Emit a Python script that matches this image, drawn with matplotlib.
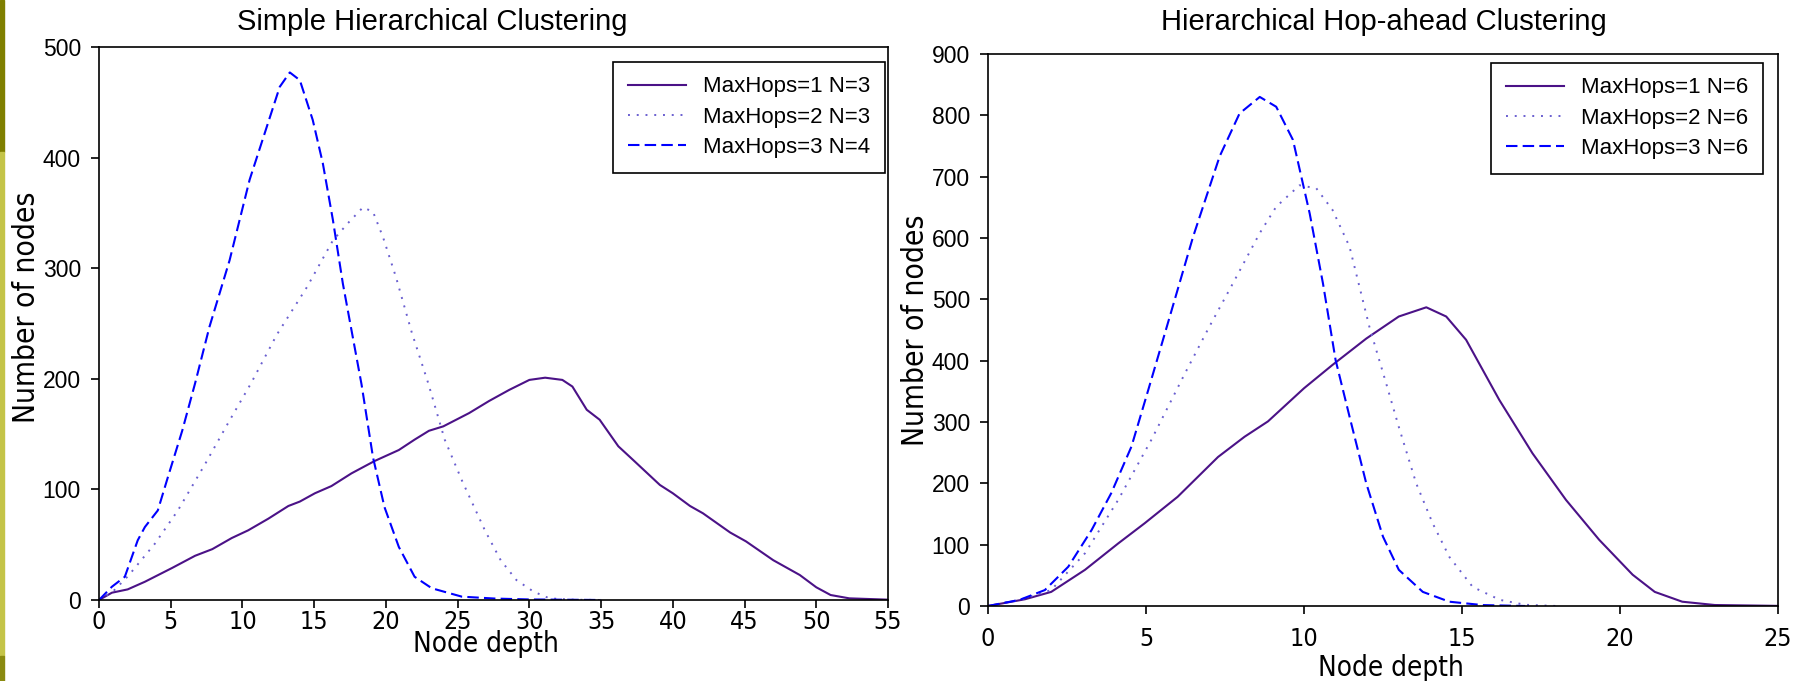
import matplotlib
matplotlib.use("Agg")
import matplotlib.pyplot as plt
from matplotlib import font_manager as fm
from matplotlib.patches import Rectangle

# ---- data ----
simple_title = "Simple Hierarchical Clustering"
hop_title = "Hierarchical Hop-ahead Clustering"
simple_labels = ["MaxHops=1 N=3", "MaxHops=2 N=3", "MaxHops=3 N=4"]
hop_labels = ["MaxHops=1 N=6", "MaxHops=2 N=6", "MaxHops=3 N=6"]

s1_x = [0, 0.9, 2.0, 3.2, 5.1, 6.7, 7.9, 9.25, 10.4, 11.8, 13.2, 14.0, 15.05, 16.2,
        17.6, 19.2, 20.9, 22.0, 23.0, 24.0, 25.8, 27.2, 28.6, 30.0, 31.1, 32.3, 33.0,
        34.0, 34.9, 36.2, 37.2, 39.1, 40.0, 41.2, 42.1, 44.0, 45.1, 47.0, 48.85, 50.0,
        51.0, 52.3, 55]
s1_y = [0, 6.6, 9.6, 16.5, 29, 40, 46, 56, 63, 73.5, 85, 89, 96.5, 103,
        114.5, 125.6, 135.6, 145, 153, 157, 169, 180, 190, 199, 201, 199, 193,
        172, 163, 139, 127, 104, 96.5, 85, 78.4, 61, 53, 36, 22.6, 11.5,
        4.5, 1.5, 0.3]
s2_x = [0, 1.0, 2.05, 3.9, 5.5, 7.4, 9.0, 10.6, 12.4, 14.5, 16.3, 17.3, 18.4, 19.1,
        19.8, 20.7, 21.8, 22.95, 24.1, 25.3, 26.9, 28.0, 29.1, 30.3, 31.4, 33, 35]
s2_y = [0, 8, 22, 51, 81, 123, 160, 196, 240, 283, 325, 340, 355, 351,
        328, 292, 242, 196, 145, 108, 63, 36, 18, 7.5, 1.5, 0.3, 0]
s3_x = [0, 0.9, 1.8, 2.7, 3.2, 4.1, 4.8, 5.8, 6.7, 7.7, 9.1, 10.5, 11.7, 12.6, 13.3,
        14.0, 14.9, 15.6, 16.3, 17.0, 17.6, 18.3, 19.1, 19.9, 20.9, 22.0, 23.2, 25.3,
        27.6, 30, 35]
s3_y = [0, 12, 21, 54, 66, 81, 111, 153, 196, 247, 307, 380, 428, 464, 477,
        470, 434, 395, 344, 286, 244, 195, 129, 84, 48, 21, 10.6, 3,
        1.3, 0.5, 0]

h1_x = [0, 1.17, 2.0, 3.07, 4.12, 4.96, 6.0, 7.28, 8.12, 8.86, 10.0, 10.9, 11.97,
        13.0, 13.87, 14.5, 15.13, 16.18, 17.23, 18.29, 19.34, 20.4, 21.1, 21.97,
        23.0, 25]
h1_y = [0, 11, 23, 59, 102, 135, 178, 243, 276, 301, 355, 393, 436,
        472, 487, 472, 434, 336, 249, 173, 108, 51, 23, 7,
        1.6, 0.2]
h2_x = [0, 1.0, 2.0, 3.07, 4.12, 5.17, 6.23, 7.0, 7.75, 8.6, 9.12, 9.86, 10.39,
        10.9, 11.44, 12.07, 12.6, 13.0, 13.55, 14.07, 14.6, 15.34, 16.2, 17.0, 18]
h2_y = [0, 10, 26, 86, 173, 271, 379, 455, 526, 608, 651, 686, 681,
        646, 586, 455, 363, 292, 200, 135, 80, 31, 10, 2, 0]
h3_x = [0, 1.0, 1.8, 2.54, 3.28, 3.9, 4.54, 5.07, 5.6, 6.49, 7.33, 7.96, 8.6, 9.12,
        9.65, 10.18, 10.6, 11.0, 11.44, 11.97, 12.5, 13.0, 13.76, 14.6, 15.65, 17]
h3_y = [0, 10, 26, 64, 124, 184, 260, 352, 445, 602, 733, 803, 830, 814,
        760, 640, 526, 401, 309, 200, 113, 59, 23, 7, 1.5, 0]

# ---- styling ----
C_SOLID = "#4b1287"
C_DOT = "#6a5fd0"
C_DASH = "#0000ff"
REG = {"family": ["Liberation Sans", "DejaVu Sans"]}

# the axis texts in the reference are set in a narrow face; use one if present
_fonts = fm.fontManager.ttflist
if any(f.name == "Liberation Sans Narrow" for f in _fonts):
    NARROW = {"family": ["Liberation Sans Narrow", "DejaVu Sans"]}
    NSCALE = 1.2
elif any(f.name == "DejaVu Sans" and f.stretch == "condensed" for f in _fonts):
    NARROW = {"family": ["DejaVu Sans"], "stretch": "condensed"}
    NSCALE = 1.0
else:
    NARROW = REG
    NSCALE = 1.0

fig = plt.figure(figsize=(18.08, 6.81), dpi=100)
W, H = 1808, 681

# olive strip on the left edge
fig.patches.append(Rectangle((0, 1 - 152 / H), 4 / W, 152 / H, transform=fig.transFigure,
                             color="#7f7f00", zorder=0))
fig.patches.append(Rectangle((0, 25 / H), 4 / W, (656 - 152) / H, transform=fig.transFigure,
                             color="#c4c448", zorder=0))
fig.patches.append(Rectangle((0, 0), 4 / W, 25 / H, transform=fig.transFigure,
                             color="#8a8a10", zorder=0))


def panel(px, series, labels, leg_px, xmax, ymax, xpad, title, title_x,
          ylab_xy, xlab_xy):
    x0, x1, y0, y1 = px
    ax = fig.add_axes([x0 / W, 1 - y1 / H, (x1 - x0) / W, (y1 - y0) / H])
    (xa, ya), (xb, yb), (xc, yc) = series
    ax.plot(xa, ya, color=C_SOLID, lw=1.5, label=labels[0])
    ax.plot(xb, yb, color=C_DOT, lw=1.4, ls=(0, (1, 3.5)), label=labels[1])
    ax.plot(xc, yc, color=C_DASH, lw=1.5, ls=(0, (5.5, 2.5)), label=labels[2])
    ax.set_xlim(0, xmax)
    ax.set_ylim(0, ymax)
    ax.set_xticks(range(0, xmax + 1, 5))
    ax.set_yticks(range(0, ymax + 1, 100))
    for sp in ax.spines.values():
        sp.set_linewidth(1.2)
    ax.tick_params(direction="out", length=6, width=1.2)
    ax.tick_params(axis="y", pad=7)
    ax.tick_params(axis="x", pad=xpad)
    for t in ax.get_yticklabels():
        t.set_fontproperties(fm.FontProperties(size=16.5, **REG))
    for t in ax.get_xticklabels():
        t.set_fontproperties(fm.FontProperties(size=18 * NSCALE, **NARROW))
    ax.set_xlabel("Node depth", fontproperties=fm.FontProperties(size=20 * NSCALE, **NARROW))
    ax.set_ylabel("Number of nodes", fontproperties=fm.FontProperties(size=21.5 * NSCALE, **NARROW))
    ax.yaxis.set_label_coords(*ylab_xy)
    ax.xaxis.set_label_coords(*xlab_xy)
    leg = ax.legend(loc="upper right", bbox_to_anchor=(leg_px[0] / W, 1 - leg_px[1] / H),
                    bbox_transform=fig.transFigure, borderaxespad=0, fancybox=False,
                    edgecolor="black", framealpha=1,
                    prop=fm.FontProperties(size=16, **REG),
                    handlelength=2.6, handletextpad=0.8, labelspacing=0.42,
                    borderpad=0.65)
    leg.get_frame().set_linewidth(1.2)
    fig.text(title_x / W, 1 - 22 / H, title, ha="center", va="center",
             fontproperties=fm.FontProperties(size=21, **REG))
    return ax


ax1 = panel((99, 888, 47, 600), [(s1_x, s1_y), (s2_x, s2_y), (s3_x, s3_y)],
            simple_labels, (885, 62), 55, 500, 1, simple_title, 432,
            (-0.074, 0.53), (0.49, -0.055))
ax2 = panel((988, 1778, 54, 606), [(h1_x, h1_y), (h2_x, h2_y), (h3_x, h3_y)],
            hop_labels, (1763, 63), 25, 900, 9, hop_title, 1384,
            (-0.073, 0.5), (0.51, -0.087))

fig.savefig("out.png", dpi=100)
